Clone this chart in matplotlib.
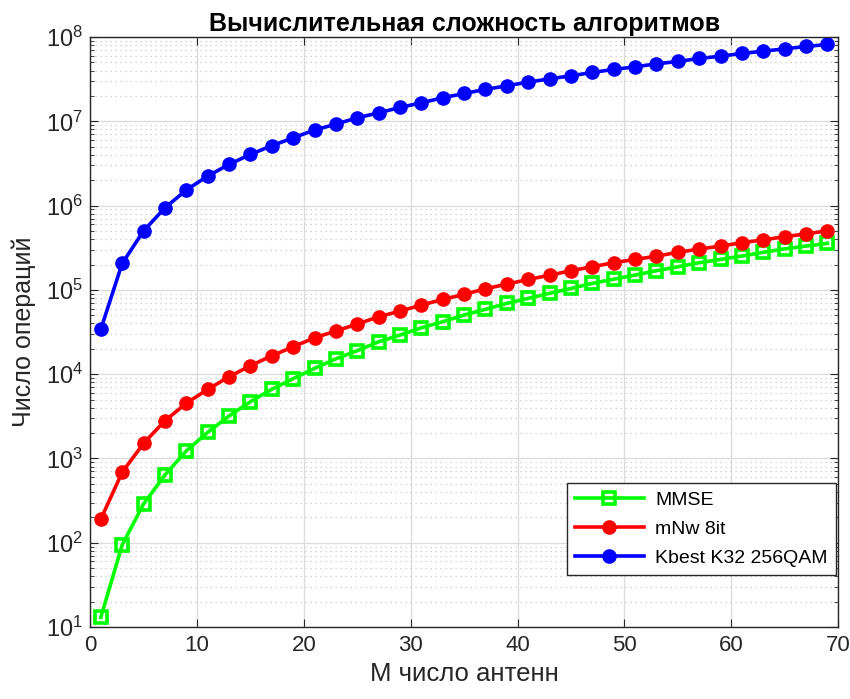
import numpy as np
import matplotlib
matplotlib.use("Agg")
from matplotlib import pyplot as plt
from matplotlib.ticker import LogLocator, NullFormatter

plt.rcParams['font.family'] = ['Liberation Sans', 'DejaVu Sans']
plt.rcParams['mathtext.fontset'] = 'custom'
plt.rcParams['mathtext.rm'] = 'Liberation Sans'
plt.rcParams['mathtext.it'] = 'Liberation Sans'

# число антенн
M = [1, 3, 5, 7, 9, 11, 13, 15, 17, 19, 21, 23, 25, 27, 29, 31, 33, 35,
     37, 39, 41, 43, 45, 47, 49, 51, 53, 55, 57, 59, 61, 63, 65, 67, 69]

mmse = [13, 94, 288, 635, 1230, 2040, 3190, 4710, 6610, 8850, 11700, 15200,
        19000, 24200, 29100, 35500, 41900, 50300, 58800, 69200, 79300, 91000,
        104000, 119500, 134000, 150000, 169000, 188000, 210000, 230000,
        252000, 279000, 307000, 331000, 357000]

mnw = [190, 684, 1510, 2800, 4510, 6600, 9300, 12600, 16500, 21100, 27000,
       32500, 39300, 48000, 56000, 66000, 77000, 88500, 103000, 117000,
       133000, 149000, 169000, 188000, 210000, 230000, 251000, 279000,
       305000, 331000, 363000, 393000, 427000, 463000, 502000]

kbest = [34000, 206000, 500000, 940000, 1.53e6, 2.24e6, 3.08e6, 4.05e6,
         5.13e6, 6.37e6, 7.87e6, 9.27e6, 1.10e7, 1.26e7, 1.46e7, 1.66e7,
         1.90e7, 2.14e7, 2.39e7, 2.64e7, 2.92e7, 3.19e7, 3.47e7, 3.80e7,
         4.13e7, 4.43e7, 4.81e7, 5.13e7, 5.57e7, 5.93e7, 6.38e7, 6.80e7,
         7.24e7, 7.73e7, 8.17e7]

fig = plt.figure(figsize=(8.5, 6.99), dpi=100)
ax = fig.add_axes([0.106, 0.103, 0.880, 0.844])

ax.semilogy(M, mmse, '-s', color=(0, 1, 0), lw=2.6, ms=8,
            mfc='none', mew=2.6, label='MMSE')
ax.semilogy(M, mnw, '-o', color=(1, 0, 0), lw=2.6, ms=9.5, label='mNw 8it')
ax.semilogy(M, kbest, '-o', color=(0, 0, 1), lw=2.6, ms=9.5,
            label='Kbest K32 256QAM')

ax.set_xlim(0, 70)
ax.set_ylim(10, 1e8)
ax.set_xticks(range(0, 71, 10))
ax.yaxis.set_major_locator(LogLocator(base=10, numticks=20))
ax.yaxis.set_minor_locator(LogLocator(base=10, subs=np.arange(2, 10), numticks=20))
ax.yaxis.set_minor_formatter(NullFormatter())

ax.grid(True, which='major', color='#dcdcdc', lw=1.0, ls='-')
ax.grid(True, which='minor', axis='y', color='#c8c8c8', lw=0.9, ls=(0, (1, 3)))
ax.set_axisbelow(True)

for s in ax.spines.values():
    s.set_color('#262626')
    s.set_linewidth(1.0)
ax.tick_params(which='both', direction='in', top=True, right=True,
               colors='#262626')
ax.tick_params(axis='x', labelsize=16, pad=6)
ax.tick_params(axis='y', labelsize=17, pad=5)
ax.tick_params(which='major', length=6)
ax.tick_params(which='minor', length=3)

ax.set_title('Вычислительная сложность алгоритмов', fontsize=18,
             fontweight='bold', pad=4)
ax.set_xlabel('M число антенн', fontsize=18.5, color='#262626', labelpad=4)
ax.set_ylabel('Число операций', fontsize=18, color='#262626', labelpad=7)

leg = ax.legend(loc='lower right', fontsize=14, frameon=True, fancybox=False,
                edgecolor='#262626', framealpha=1, handlelength=3.5,
                borderaxespad=0.0, bbox_to_anchor=(0.997, 0.088),
                labelspacing=0.58, borderpad=0.42, handletextpad=0.6)
leg.get_frame().set_linewidth(1.0)

fig.savefig('out.png', dpi=100)
